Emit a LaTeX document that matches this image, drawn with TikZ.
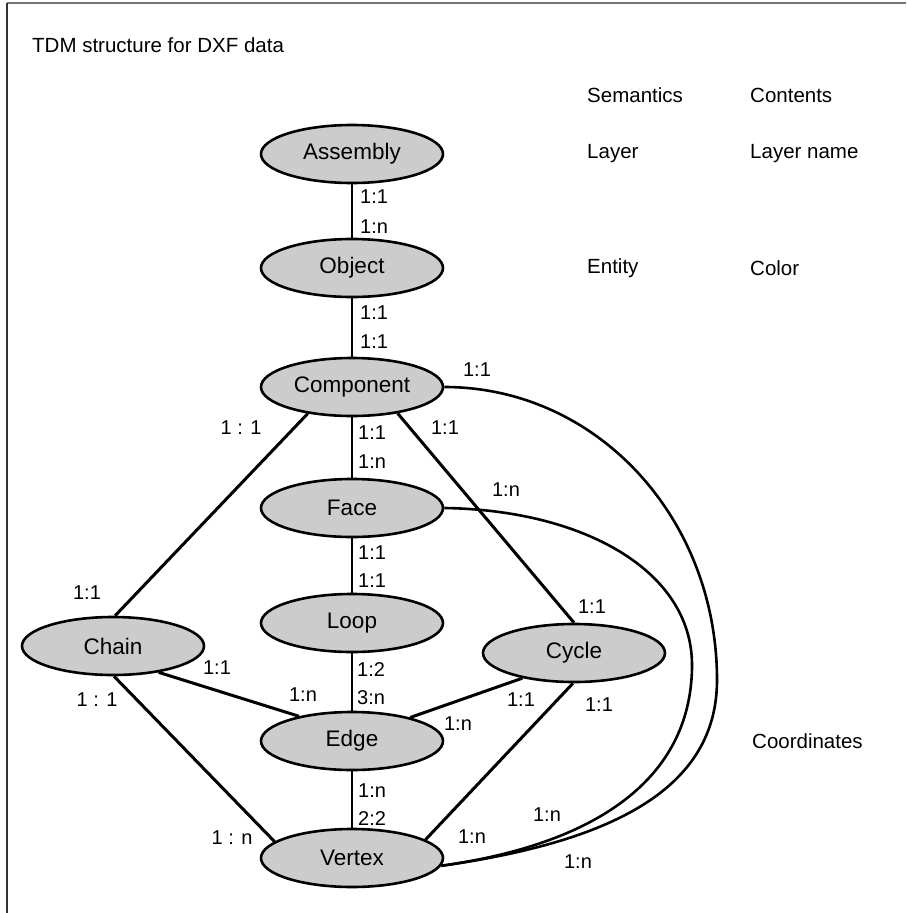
\documentclass[tikz,border=0pt]{standalone}
\usepackage{fontspec}
\setmainfont{Liberation Sans}
\usetikzlibrary{shapes.geometric}
\begin{document}
\begin{tikzpicture}[x=1pt,y=-1pt,
  ent/.style={ellipse,draw,line width=2.6pt,fill=black!20,minimum width=182pt,minimum height=58pt,inner sep=0pt,font=\fontsize{22.5}{26}\selectfont},
  lbl/.style={font=\fontsize{20}{23}\selectfont,inner sep=0pt},
  txt/.style={font=\fontsize{20.5}{24}\selectfont,inner sep=0pt,anchor=west},
  vline/.style={line width=2pt},
  dline/.style={line width=3pt},
  cline/.style={line width=2.6pt}]
\useasboundingbox (0,0) rectangle (906,913);
% frame
\coordinate (ftl) at (7,3);
\coordinate (ftr) at (906,3);
\coordinate (fbl) at (7,913);
\draw[line width=2pt,black!55] (ftl) -- (ftr);
\draw[line width=2pt,black!80] (ftl) -- (fbl);
% texts
\node[txt] (title) at (32,45) {TDM structure for DXF data};
\node[txt] (sem) at (587,95) {Semantics};
\node[txt] (con) at (750,95) {Contents};
\node[txt] (lay) at (587,154) {Layer};
\node[txt] (layn) at (750,154) {Layer name};
\node[txt] (ent) at (587,268) {Entity};
\node[txt] (col) at (750,268) {Color};
\node[txt] (coo) at (752,741) {Coordinates};
% nodes
\node[ent] (Assembly) at (352,154) {Assembly};
\node[ent] (Object) at (352,268) {Object};
\node[ent] (Component) at (352,387) {Component};
\node[ent] (Face) at (352,508) {Face};
\node[ent] (Loop) at (352,623) {Loop};
\node[ent] (Chain) at (113,646) {Chain};
\node[ent] (Cycle) at (574,653) {Cycle};
\node[ent] (Edge) at (352,741) {Edge};
\node[ent] (Vertex) at (352,858) {Vertex};
% vertical connectors
\draw[vline] (Assembly) -- (Object);
\draw[vline] (Object) -- (Component);
\draw[vline] (Component) -- (Face);
\draw[vline] (Face) -- (Loop);
\draw[vline] (Loop) -- (Edge);
\draw[vline] (Edge) -- (Vertex);
% diagonal connectors
\draw[dline] (Component.211) -- (Chain.86);
\draw[dline] (Component.330) -- (Cycle.90);
\draw[dline] (Chain.330) -- (Edge.155);
\draw[dline] (Chain.272) -- (Vertex.168);
\draw[dline] (Cycle.206) -- (Edge.22);
\draw[dline] (Cycle.268) -- (Vertex.14);
% curves
\coordinate (cO) at (717,680);
\coordinate (cI) at (692,665);
\draw[cline] (Component.east) .. controls (597,387) and (717,518) .. (cO)
  .. controls (717,790) and (610,842) .. (Vertex.-5);
\draw[cline] (Face.east) .. controls (584,510) and (692,571) .. (cI)
  .. controls (692,770) and (610,842) .. (Vertex.-5);
% labels
\node[lbl,anchor=west] (l1) at (360,197) {1:1};
\node[lbl,anchor=west] (l2) at (360,227) {1:n};
\node[lbl,anchor=west] (l3) at (360,313) {1:1};
\node[lbl,anchor=west] (l4) at (360,342) {1:1};
\node[lbl,anchor=west] (l5) at (358,433) {1:1};
\node[lbl,anchor=west] (l6) at (358,462) {1:n};
\node[lbl,anchor=west] (l7) at (358,553) {1:1};
\node[lbl,anchor=west] (l8) at (358,581) {1:1};
\node[lbl,anchor=west] (l9) at (357,670) {1:2};
\node[lbl,anchor=west] (l10) at (357,698) {3:n};
\node[lbl,anchor=west] (l11) at (358,791) {1:n};
\node[lbl,anchor=west] (l12) at (358,819) {2:2};
\node[lbl] (l13) at (477,370) {1:1};
\node[lbl] (l14) at (445,428) {1:1};
\node[lbl] (l15) at (506,490) {1:n};
\node[lbl] (l16) at (241,428) {1 : 1};
\node[lbl] (l17) at (87,593) {1:1};
\node[lbl] (l18) at (592,607) {1:1};
\node[lbl] (l19) at (217,668) {1:1};
\node[lbl] (l20) at (303,695) {1:n};
\node[lbl] (l21) at (97,700) {1 : 1};
\node[lbl] (l22) at (521,700) {1:1};
\node[lbl] (l23) at (599,705) {1:1};
\node[lbl] (l24) at (458,724) {1:n};
\node[lbl] (l25) at (232,838) {1 : n};
\node[lbl] (l26) at (472,837) {1:n};
\node[lbl] (l27) at (547,815) {1:n};
\node[lbl] (l28) at (578,862) {1:n};
\end{tikzpicture}
\end{document}
